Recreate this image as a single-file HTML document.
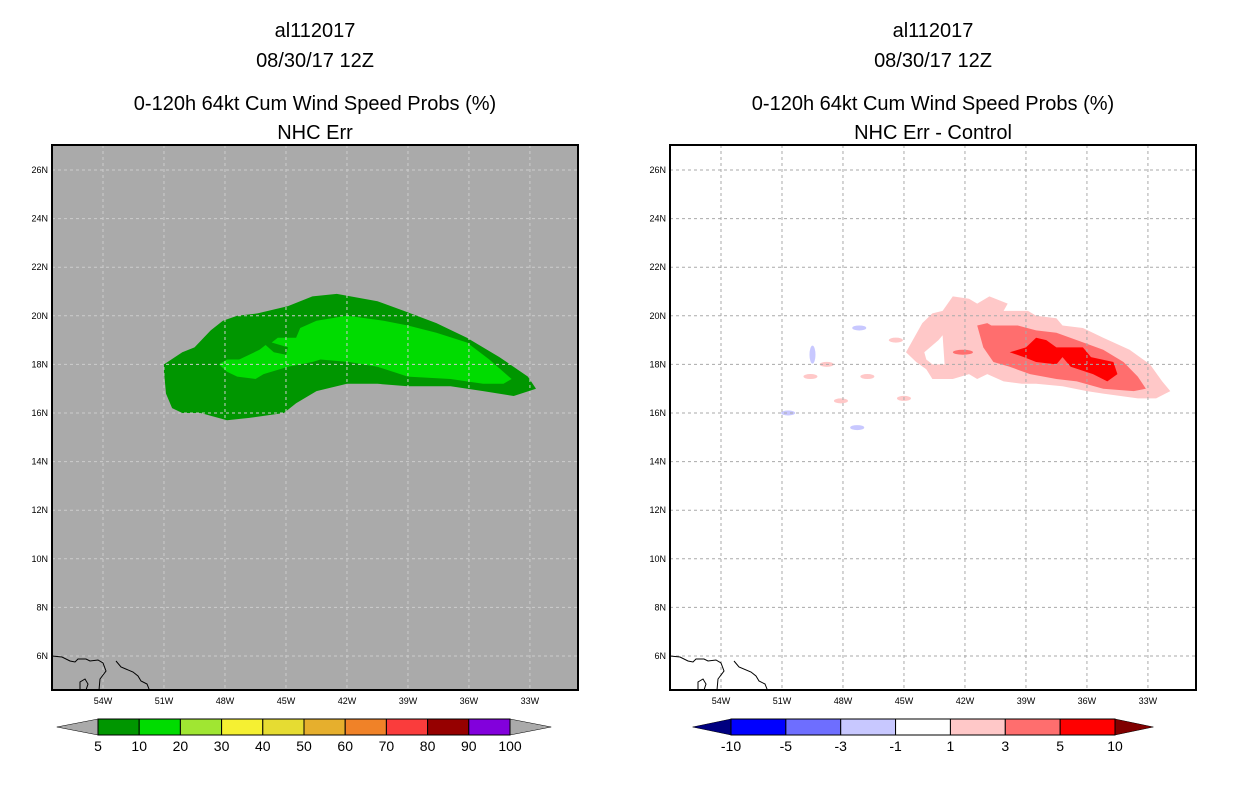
<!DOCTYPE html>
<html><head><meta charset="utf-8"><style>
body{margin:0;background:#fff;}
svg{display:block;font-family:"Liberation Sans",sans-serif;}
</style></head><body>
<svg id="chart" width="1236" height="800" xmlns="http://www.w3.org/2000/svg"></svg>
<script>
const latTicks=[26,24,22,20,18,16,14,12,10,8,6];
const lonTicks=[54,51,48,45,42,39,36,33];
const leftLevels=["5","10","20","30","40","50","60","70","80","90","100"];
const leftColors=["#009600","#00dc00","#a0e632","#f5f032","#e6dc32","#e6af2d","#f08228","#fa3c3c","#960000","#8200dc"];
const rightLevels=["-10","-5","-3","-1","1","3","5","10"];
const rightColors=["#0000ff","#6e6eff","#c8c8ff","#ffffff","#ffc8c8","#ff6e6e","#ff0000"];
const greenOuterLon=[51.0,50.1,49.5,48.7,48.1,47.4,46.4,44.9,43.7,42.5,40.5,39.2,37.6,36.1,34.5,33.1,32.7,33.8,35.3,36.9,39.0,40.5,42.0,43.5,44.5,45.1,46.8,47.9,49.2,50.1,50.6,50.9,51.0];
const greenOuterLat=[18.0,18.5,18.7,19.4,19.8,20.0,20.1,20.4,20.8,20.9,20.6,20.2,19.7,19.1,18.3,17.5,17.0,16.7,16.9,17.1,17.1,17.2,17.2,16.9,16.4,16.0,15.8,15.7,16.0,16.0,16.2,16.8,17.7];
const greenInnerLon=[48.3,47.9,47.3,46.3,46.0,45.6,45.0,44.9,45.7,45.4,44.5,44.3,43.5,42.0,40.2,39.0,37.6,36.1,35.0,33.9,34.3,35.3,36.9,39.0,40.5,41.9,43.3,43.7,44.9,46.1,46.5,47.4,47.9];
const greenInnerLat=[18.0,18.2,18.2,18.6,18.8,18.5,18.4,18.7,18.9,19.1,19.1,19.5,19.8,20.0,19.8,19.6,19.3,18.9,18.2,17.4,17.2,17.2,17.4,17.5,17.9,18.1,18.2,18.1,17.9,17.6,17.4,17.5,17.7];
const pinkLon=[44.9,44.1,43.6,43.1,42.6,41.8,41.4,40.8,39.9,40.1,39.5,38.9,38.5,37.5,37.2,36.2,35.2,33.9,32.9,32.3,31.9,32.6,33.5,35.2,36.0,37.2,38.5,39.2,40.1,40.9,41.4,41.8,42.6,43.6,43.9,44.4];
const pinkLat=[18.5,19.7,20.1,20.2,20.8,20.7,20.5,20.8,20.5,20.2,20.2,20.2,20.0,19.9,19.6,19.5,19.1,18.6,18.0,17.3,16.9,16.6,16.6,16.8,16.9,17.1,17.2,17.2,17.3,17.6,17.4,17.6,17.4,17.4,17.8,18.1];
const holeLon=[44.0,43.3,43.1,43.0,43.6,43.9];
const holeLat=[18.5,19.0,19.2,18.0,18.0,18.2];
const midLon=[41.4,40.9,40.7,39.4,38.5,37.5,36.5,35.2,34.2,33.5,33.1,33.7,35.2,36.5,37.5,38.8,39.8,40.6,41.1];
const midLat=[19.6,19.7,19.6,19.6,19.4,19.3,19.0,18.6,18.1,17.5,17.0,16.9,17.0,17.3,17.4,17.6,17.9,18.1,18.7];
const redLon=[39.8,39.0,38.5,38.0,37.5,36.2,35.8,34.7,34.5,35.0,35.7,36.8,37.2,37.5,38.5,39.1];
const redLat=[18.5,18.7,19.1,19.0,18.7,18.7,18.3,18.1,17.6,17.3,17.6,17.9,18.3,18.0,18.1,18.3];
const blobLon=[42.1,49.5,47.2,45.4,48.8,49.6,46.8,48.1,45.0,50.7,47.3];
const blobLat=[18.5,18.4,19.5,19.0,18.0,17.5,17.5,16.5,16.6,16.0,15.4];
const blobVal=[3,-2,-2,1,1,1,1,1,1,-2,-2];

const NS="http://www.w3.org/2000/svg";
const svg=document.getElementById('chart');
function mk(tag,attrs,parent){const e=document.createElementNS(NS,tag);for(const k in attrs)e.setAttribute(k,attrs[k]);(parent||svg).appendChild(e);return e;}
function txt(s,x,y,size,anchor,parent){const t=mk('text',{x:x,y:y,'font-size':size,'text-anchor':anchor||'middle',fill:'#000'},parent);t.textContent=s;return t;}
const FX0=52,FY0=145,FW=526,FH=545;
function xs(lon,off){return off+103+(54-lon)*20.33;}
function ys(lat){return 170+(26-lat)*24.3;}
function pts(lons,lats,off){return lons.map((l,i)=>xs(l,off).toFixed(1)+','+ys(lats[i]).toFixed(1)).join(' ');}
function colorFor(v){return v>=5?rightColors[6]:v>=3?rightColors[5]:v>=1?rightColors[4]:v<=-5?rightColors[0]:v<=-3?rightColors[1]:rightColors[2];}

function panel(off,name,bg,gridCol,sub){
  const g=mk('g',{});
  
  
  const cx=off+FX0+FW/2;
  const t1=txt('al112017',cx,37,20,'middle',g);
  const t2=txt('08/30/17 12Z',cx,67,20,'middle',g);
  const t3=txt('0-120h 64kt Cum Wind Speed Probs (%)',cx,110,20,'middle',g);
  const t4=txt(sub,cx,139,20,'middle',g);
  const cp=mk('clipPath',{id:'clip'+off},g);mk('rect',{x:off+FX0,y:FY0,width:FW,height:FH},cp);
  const bgR=mk('rect',{x:off+FX0,y:FY0,width:FW,height:FH,fill:bg},g);
  
  const plot=mk('g',{'clip-path':'url(#clip'+off+')'},g);
  return {g,plot,off,gridCol};
}
function frame(p){
  const {g,plot,off,gridCol}=p;
  latTicks.forEach(lat=>{
    const l=mk('line',{x1:off+FX0,x2:off+FX0+FW,y1:ys(lat),y2:ys(lat),stroke:gridCol,'stroke-dasharray':'3,3'},plot);
    
    const t=txt(lat+'N',off+FX0-4,ys(lat)+3,9,'end',g);
    
  });
  lonTicks.forEach(lon=>{
    const l=mk('line',{x1:xs(lon,off),x2:xs(lon,off),y1:FY0,y2:FY0+FH,stroke:gridCol,'stroke-dasharray':'3,3'},plot);
    
    const t=txt(lon+'W',xs(lon,off),704,9,'middle',g);
    
  });
  const c=mk('path',{d:`M${off+52},656 l10,1 l8,4 l5,1 l3,-3 l8,0 l4,2 l8,-1 l5,3 l3,8 l-6,8 l-1,11 M${off+116},661 l5,6 l12,5 l5,4 l3,5 l6,3 l2,5 l2,6 M${off+80},690 l0,-8 l5,-3 l3,5 l-2,6`,fill:'none',stroke:'#000','stroke-width':1},plot);
  
  const f=mk('rect',{x:off+FX0,y:FY0,width:FW,height:FH,fill:'none',stroke:'#000','stroke-width':2},g);
  
}

// Left panel
const L=panel(0,'left-map-panel','#aaaaaa','#cccccc','NHC Err');
let e=mk('polygon',{points:pts(greenOuterLon,greenOuterLat,0),fill:leftColors[0]},L.plot);

e=mk('polygon',{points:pts(greenInnerLon,greenInnerLat,0),fill:leftColors[1]},L.plot);

frame(L);

// Right panel
const R=panel(618,'right-map-panel','#ffffff','#aaaaaa','NHC Err - Control');
e=mk('polygon',{points:pts(pinkLon,pinkLat,618),fill:rightColors[4]},R.plot);

e=mk('polygon',{points:pts(holeLon,holeLat,618),fill:'#ffffff'},R.plot);

e=mk('polygon',{points:pts(midLon,midLat,618),fill:rightColors[5]},R.plot);

e=mk('polygon',{points:pts(redLon,redLat,618),fill:rightColors[6]},R.plot);

blobLon.forEach((lon,i)=>{
  const b=mk('ellipse',{cx:xs(lon,618),cy:ys(blobLat[i]),rx:(i===0?10:i===1?3:7),ry:(i===1?9:2.5),fill:colorFor(blobVal[i])},R.plot);
  
});
frame(R);

// Colorbars
function colorbar(x0,x1,y,levels,colors,lt,rt,name){
  const g=mk('g',{});
  const n=colors.length,w=(x1-x0)/n,h=16;
  const a=mk('polygon',{points:`${x0},${y} ${x0},${y+h} ${x0-(x1-x0)*0.1},${y+h/2}`,fill:lt,stroke:'#000','stroke-width':0.5},g);
  
  const b=mk('polygon',{points:`${x1},${y} ${x1},${y+h} ${x1+(x1-x0)*0.1},${y+h/2}`,fill:rt,stroke:'#000','stroke-width':0.5},g);
  
  colors.forEach((c,i)=>{
    const r=mk('rect',{x:x0+i*w,y:y,width:w,height:h,fill:c,stroke:'#000','stroke-width':1},g);
    
  });
  levels.forEach((s,i)=>{
    const t=txt(s,x0+i*w,y+32,14,'middle',g);
    
  });
}
colorbar(98,510,719,leftLevels,leftColors,'#aaaaaa','#aaaaaa','left-colorbar');
colorbar(731,1115,719,rightLevels,rightColors,'#000080','#800000','right-colorbar');
</script>
</body></html>
